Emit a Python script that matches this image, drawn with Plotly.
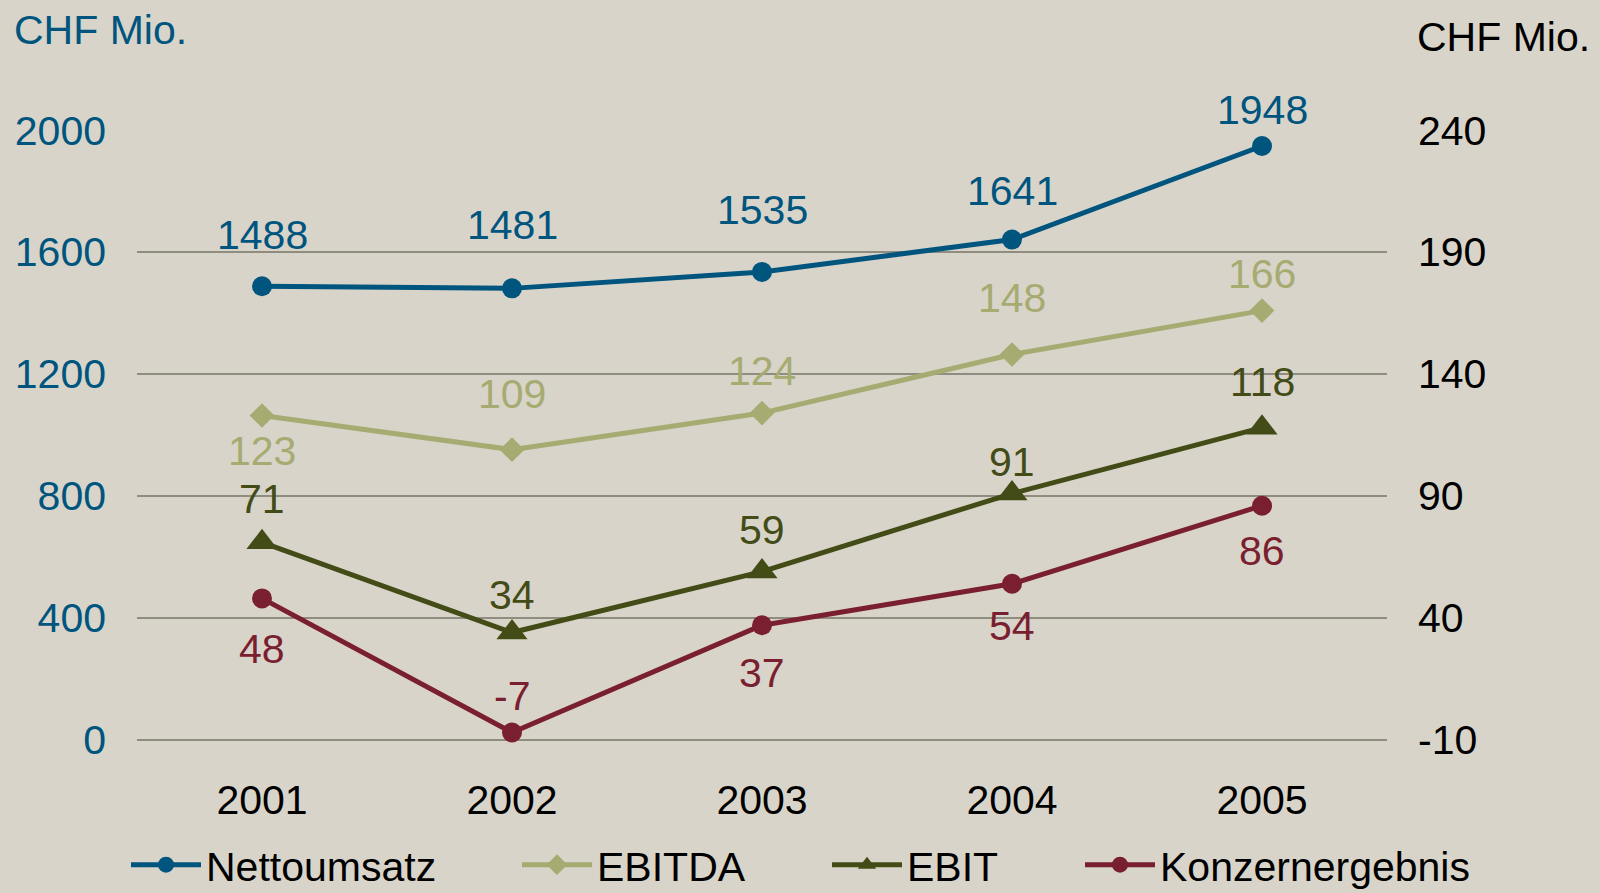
import plotly.graph_objects as go

years = ["2001", "2002", "2003", "2004", "2005"]
nettoumsatz = [1488, 1481, 1535, 1641, 1948]
ebitda = [123, 109, 124, 148, 166]
ebit = [71, 34, 59, 91, 118]
konzern = [48, -7, 37, 54, 86]

left_ticks = [0, 400, 800, 1200, 1600, 2000]
right_ticks = [-10, 40, 90, 140, 190, 240]
right_ticktext = ["-10", "40", "90", "140", "190", "240"]

# label vertical offsets in px (positive = above)
off_net = [51, 63, 62, 49, 36]
off_ebitda = [-36, 56, 42, 57, 37]
off_ebit = [43, 38, 42, 32, 46]
off_konz = [-51, 37, -48, -42, -45]

C_NET = "#00557F"
C_EBITDA = "#A6AB72"
C_EBIT = "#434B17"
C_KONZ = "#7A1F30"
BG = "#D8D4C9"
GRID = "#8E8D7F"
FONT = "Liberation Sans, Arial, sans-serif"
FS = 41

series = [
    ("Nettoumsatz", nettoumsatz, C_NET, "circle", 20, "y", off_net, "legend"),
    ("EBITDA", ebitda, C_EBITDA, "diamond", 19, "y2", off_ebitda, "legend2"),
    ("EBIT", ebit, C_EBIT, "triangle-up", 27, "y2", off_ebit, "legend3"),
    ("Konzernergebnis", konzern, C_KONZ, "circle", 20, "y2", off_konz, "legend4"),
]

fig = go.Figure()
for name, vals, col, sym, ms, yax, offs, leg in series:
    fig.add_trace(go.Scatter(
        x=years, y=vals, name=name, yaxis=yax, mode="lines+markers",
        line=dict(color=col, width=5),
        marker=dict(symbol=sym, size=ms, color=col),
        cliponaxis=False, legend=leg,
    ))
    for i, (yv, o) in enumerate(zip(vals, offs)):
        fig.add_annotation(
            x=i, y=yv, xref="x", yref=yax, text=str(yv), showarrow=False,
            yshift=o, font=dict(family=FONT, size=FS, color=col),
        )

fig.add_annotation(x=0, y=1, xref="paper", yref="paper", xanchor="left", yanchor="top",
                   xshift=-125, yshift=125, text="CHF Mio.", showarrow=False,
                   font=dict(family=FONT, size=FS, color=C_NET))
fig.add_annotation(x=1, y=1, xref="paper", yref="paper", xanchor="left", yanchor="top",
                   xshift=28, yshift=118, text="CHF Mio.", showarrow=False,
                   font=dict(family=FONT, size=FS, color="#000000"))

leg_common = dict(orientation="h", yanchor="middle", y=-0.205, xanchor="left",
                  bgcolor="rgba(0,0,0,0)", font=dict(family=FONT, size=FS, color="#000000"),
                  itemwidth=70)
plot_l, plot_w = 137, 1250
leg_px = [126, 517, 827, 1080]
legs = {}
for key, px in zip(["legend", "legend2", "legend3", "legend4"], leg_px):
    legs[key] = dict(leg_common, x=(px - plot_l) / plot_w)

fig.update_layout(
    width=1600, height=893,
    paper_bgcolor=BG, plot_bgcolor=BG,
    margin=dict(l=137, r=213, t=130, b=153, autoexpand=False),
    font=dict(family=FONT, size=FS, color="#000000"),
    showlegend=True,
    xaxis=dict(type="category", range=[-0.5, 4.5], showgrid=False, showline=False,
               zeroline=False, ticks="", ticklabelstandoff=32,
               tickfont=dict(family=FONT, size=FS, color="#000000")),
    yaxis=dict(range=[-0.5, 2000.5], tickvals=left_ticks, showgrid=True, gridcolor=GRID,
               gridwidth=2, zeroline=True, zerolinecolor=GRID, zerolinewidth=2,
               showline=False, ticks="", ticklabelstandoff=30,
               tickfont=dict(family=FONT, size=FS, color=C_NET)),
    yaxis2=dict(range=[-10.0625, 240.0625], tickvals=right_ticks, ticktext=right_ticktext,
                overlaying="y", side="right",
                showgrid=False, zeroline=False, showline=False, ticks="",
                ticklabelstandoff=30,
                tickfont=dict(family=FONT, size=FS, color="#000000")),
    **legs,
)

fig.write_html("out.html", config={"displayModeBar": False},
               post_script="document.body.style.margin='0';")
